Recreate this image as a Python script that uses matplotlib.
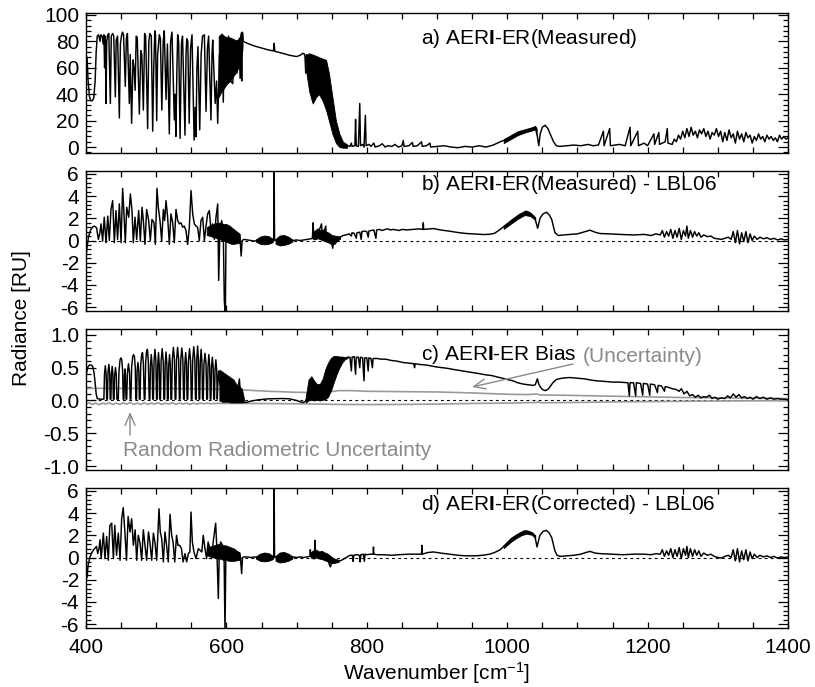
import numpy as np
import matplotlib
matplotlib.use('Agg')
import matplotlib.pyplot as plt
from matplotlib.ticker import AutoMinorLocator, FormatStrFormatter

plt.rcParams['font.family'] = ['Liberation Sans', 'DejaVu Sans']
plt.rcParams['mathtext.fontset'] = 'custom'
plt.rcParams['mathtext.rm'] = 'Liberation Sans'
plt.rcParams['mathtext.bf'] = 'Liberation Sans:bold'
plt.rcParams['mathtext.it'] = 'Liberation Sans:italic'
plt.rcParams['axes.unicode_minus'] = False

# ---------------- data (wavenumber [cm-1], radiance [RU]) ----------------
# Panel a: measured radiance
a_line = [
    (400, 52), (401.5, 68), (403, 50), (405, 38), (407, 35), (409, 35), (411, 37), (413, 50), (414.5, 72),
    (416, 84), (418, 85), (420, 80), (421, 85), (423, 84), (424.5, 78), (425.5, 85), (426.5, 60), (427.5, 84),
    (428.5, 33), (429.5, 80), (431, 85), (432.5, 86), (434.7, 33), (436, 84), (438, 86), (439.5, 84), (441.8, 38),
    (443, 81), (445, 84), (447.5, 22), (449, 78), (450.5, 84), (452, 87), (453.5, 85), (456, 46), (457.5, 82),
    (459, 86), (461.7, 33), (463, 70), (465, 18), (467, 66), (468.5, 60), (470, 43), (471.5, 84), (473, 83),
    (476, 25), (478, 73), (479.5, 70), (481.7, 28), (483.5, 86), (485, 84), (487.8, 14), (489.5, 80), (491, 86),
    (493, 84), (495, 12), (496.5, 60), (498, 88), (499, 85), (500.7, 20), (502, 70), (504.5, 85), (506, 82),
    (508, 28), (510, 80), (511.5, 88), (514, 36), (516, 78), (518.7, 10), (520.5, 80), (522.5, 87), (525.8, 20.5),
    (527, 40), (528, 8), (529.5, 60), (530.6, 85), (532, 80), (534, 6.6), (536, 78), (537.5, 84), (541, 9),
    (542.5, 70), (543.5, 82), (545, 80), (547, 18), (549, 75), (551, 85), (554, 5.3), (555.5, 30), (556.7, 7.8),
    (558, 60), (559.5, 76), (562, 13), (564, 70), (566, 84), (568.6, 85), (571, 27), (573, 75), (574.7, 84),
    (578, 20.5), (579.5, 70), (580.5, 81), (584, 33), (586, 50), (587.6, 18), (589, 45), (590, 70),
    (592, 50), (594, 80), (595.6, 34), (597, 82), (600, 55), (603, 84), (606, 50), (609, 48), (612, 80),
    (615, 56), (618, 82), (619.5, 52), (621, 86), (621.8, 50), (622.5, 87), (624, 80),
    (630, 78.5), (640, 76.5), (650, 75), (660, 73.5), (667, 72.8), (668, 78.5), (669, 72.5), (680, 71),
    (690, 69.5), (700, 68.5), (705, 69.5), (709, 71), (711, 70.5), (712, 68), (713, 56), (714, 70),
    (718, 60), (723, 34), (727, 60), (732, 50), (737, 55), (742, 40), (746, 30), (751, 20), (756, 8),
    (761, 3), (766, 1), (772, 1), (776, 0.5), (778, 3), (779, 0.5), (783, 1), (784, 21), (785, 1),
    (788, 0.5), (790, 33), (791, 1), (794, 2), (796, 0), (798, 24), (799, 1), (803, 2), (806, 0.5), (810, 3),
    (812, 0), (818, 1), (822, 2.5), (826, 0), (830, 1), (836, 0.5), (840, 2), (845, 0), (850, 1), (852, 5),
    (853, 0.5), (860, 1), (865, 3.5), (866, 0.5), (872, 1), (878, 4), (879, 0.5), (885, 1), (890, 3), (891, 0),
    (900, 0.5), (910, 1), (920, 0), (930, -0.5), (940, 0.5), (950, 0), (960, 1), (970, 0), (980, 1.5),
    (990, 4), (1000, 6), (1010, 9), (1020, 11), (1030, 12.5), (1036, 14), (1040, 15), (1043, 8), (1045, 1),
    (1047, 10), (1050, 15), (1054, 16.5), (1058, 14), (1062, 9), (1066, 4), (1070, 1), (1075, 0.5), (1085, 1),
    (1095, 1.5), (1105, 1), (1115, 2), (1122, 1), (1130, 1.5), (1137, 12), (1138, 1), (1146, 14), (1147, 1),
    (1160, 2), (1168, 1), (1175, 15), (1176, 1), (1186, 12), (1187, 1), (1195, 3), (1200, 1), (1209, 10),
    (1210, 2), (1216, 11), (1217, 2), (1225, 4), (1228, 14), (1229, 3), (1235, 2), (1238, 6), (1241, 4),
    (1244, 9), (1247, 6), (1250, 12), (1253, 7), (1256, 14), (1259, 8), (1262, 15), (1265, 9), (1268, 12),
    (1271, 7), (1274, 13), (1277, 10), (1280, 14), (1283, 8), (1286, 12), (1289, 6), (1292, 11), (1295, 9),
    (1298, 14), (1301, 8), (1304, 12), (1307, 4), (1310, 11), (1313, 5), (1316, 13), (1319, 7), (1322, 10),
    (1325, 3), (1328, 12), (1331, 6), (1334, 10), (1337, 4), (1340, 11), (1343, 7), (1346, 9), (1349, 3),
    (1352, 8), (1355, 5), (1358, 10), (1361, 6), (1364, 8), (1367, 4), (1370, 9), (1373, 6), (1376, 8),
    (1379, 5), (1382, 7), (1385, 4), (1388, 9), (1391, 6), (1394, 8), (1397, 6), (1400, 7),
]
# dense (unresolved) line bands in panel a: wavenumber, upper and lower envelopes
a_band1_wn = [589, 593, 597, 601, 605, 609, 613, 617, 620, 623]
a_band1_hi = [84, 86, 84, 83, 83, 82, 81, 81, 85, 87]
a_band1_lo = [38, 42, 45, 48, 50, 53, 56, 60, 62, 75]
a_band2_wn = [714, 718, 723, 728, 732, 737, 742, 746, 751, 756, 761, 766, 772]
a_band2_hi = [70, 71, 70, 69, 68, 67, 66, 56, 38, 20, 10, 4, 2]
a_band2_lo = [56, 42, 33, 38, 40, 35, 28, 20, 10, 3, 0, -0.5, -0.5]
a_band3_wn = [995, 1005, 1015, 1025, 1035, 1040, 1042]
a_band3_hi = [6, 9, 12, 13.5, 15, 16, 14]
a_band3_lo = [3, 6, 9, 11, 12.5, 13.5, 10]

# Panel b: measured - LBL06
b_line = [
    (400, -1.5), (401.5, -0.6), (403.8, 0.4), (407, 1.0), (410, 1.25), (412, 1.3), (415, 1.15), (417.6, 0.1),
    (419.5, 0.6), (421.4, 1.5), (423.7, -0.05), (426, 2.1), (428.5, -0.2), (431, 2.2), (433.2, 0.0), (435.6, 2.8),
    (438, 3.6), (440.4, -0.2), (442.7, 2.7), (445, 0.1), (447.5, 3.3), (449.9, -0.2), (452.2, 4.7), (454.1, 2.4),
    (456, -0.2), (458, 3.0), (460.8, 2.1), (463.2, 4.2), (465.5, 2.7), (467.4, -0.2), (469.8, 2.1), (472.2, 0.1),
    (475, 2.7), (477.4, -0.05), (479.8, 3.0), (481.7, 1.8), (484, -0.35), (486.4, 2.8), (489.3, 1.8), (491.6, 0.0),
    (494, 1.9), (496.9, 1.6), (498.8, -0.35), (501.1, 4.7), (503, 3.0), (505.4, 1.8), (507.8, -0.05), (510.2, 2.8),
    (512, 1.8), (514, 3.6), (516.3, 2.1), (518.7, -0.35), (521, 2.4), (523.5, 1.6), (525.8, -0.2), (528.2, 2.8),
    (530.6, 1.8), (533, 1.5), (535.3, 1.6), (537.7, 1.2), (540, 1.3), (542.4, 0.9), (544.8, -0.35), (547.2, 1.2),
    (549.6, 4.5), (552, 2.4), (554.3, 1.5), (556.7, 1.3), (559, 1.2), (561.4, 0.0), (563.8, 1.8), (566.2, 2.1),
    (568.6, 0.0), (571, 1.3), (573.3, 2.4), (575.7, 2.7), (578, 0.9), (580.4, 1.5), (582.8, 0.1), (585.2, 2.1),
    (587.6, 3.3), (589, -3.6), (590.9, 1.2), (593.3, 1.8), (595.6, 0.6), (597, -5.4), (598.5, -6.8), (599.5, 0.9),
    (602, 1.2), (606, 0.8), (610, 0.9), (614, 0.5), (618, 0.6), (619.5, 0.1), (621, -1.4), (622.5, 0.0),
    (625, 0.1), (630, 0.05), (635, 0.0), (640, -0.05), (645, 0.0), (655, 0.1), (665, 0.0), (667.6, 0.0),
    (668, 7.0), (668.6, 0.0), (672, 0.05), (680, 0.1), (690, 0.0), (695, 0.0), (700, 0.05), (705, 0.0),
    (710, 0.05), (715, 0.1), (720, 0.15), (722.5, 0.2), (723.5, 1.6), (724.5, 0.4), (730, 0.5), (735.5, 1.5),
    (736.5, 0.3), (741.5, 1.3), (742.5, 0.2), (750, -0.2), (751.5, -0.7), (753, 0.0), (758, 0.2), (762, 0.3),
    (766, 0.45), (770, 0.5), (775, 0.6), (778, 0.4), (779, 0.7), (782, 0.65), (785, 0.2), (786, 0.7), (790, 0.75),
    (792, 0.1), (793, 0.8), (797, 0.85), (800, 0.8), (802, 0.3), (803, 0.85), (806, 0.9), (810, 0.95), (813, 0.2),
    (814, 0.95), (818, 1.0), (822, 0.9), (826, 1.0), (830, 1.05), (834, 0.95), (838, 1.0), (842, 0.95), (846, 0.9),
    (850, 1.0), (857, 0.95), (865, 1.0), (875, 1.05), (880, 1.0), (880.5, 1.6), (881, 1.0), (890, 1.05),
    (895, 1.08), (905, 0.95), (918, 0.84), (930, 0.72), (942, 0.63), (955, 0.58), (966, 0.54), (975, 0.56),
    (982, 0.65), (990, 1.0), (999, 1.45), (1008, 1.9), (1018, 2.35), (1027, 2.64), (1031, 2.55), (1035, 2.35),
    (1039.5, 2.0), (1043.4, 1.1), (1046.7, 2.0), (1051, 2.4), (1056, 2.55), (1060, 2.3), (1063.4, 1.9),
    (1068, 0.7), (1073, 0.45), (1080, 0.5), (1090, 0.55), (1100, 0.6), (1108, 0.75), (1118, 0.93), (1125, 0.75),
    (1132, 0.63), (1145, 0.6), (1160, 0.55), (1180, 0.5), (1195, 0.55), (1205, 0.45), (1212, 0.6), (1218, 0.5),
    (1221, 0.9), (1224, 0.3), (1227, 0.8), (1230, 0.4), (1233, 1.0), (1236, 0.2), (1239, 0.9), (1242, 0.3),
    (1245, 1.1), (1248, 0.1), (1251, 0.9), (1254, 0.4), (1256, 1.3), (1258, 0.2), (1261, 0.9), (1264, 0.3),
    (1267, 0.8), (1270, 0.4), (1273, 0.7), (1276, 0.3), (1280, 0.5), (1285, 0.35), (1290, 0.4), (1295, 0.2),
    (1300, 0.15), (1305, 0.1), (1310, 0.2), (1315, 0.3), (1319, 0.1), (1322, 0.8), (1325, -0.2), (1328, 0.9),
    (1331, -0.3), (1334, 0.7), (1337, -0.1), (1340, 0.8), (1343, -0.2), (1346, 0.6), (1349, 0.0), (1352, 0.4),
    (1356, 0.1), (1360, 0.3), (1365, 0.15), (1370, 0.25), (1375, 0.1), (1380, 0.2), (1385, 0.05), (1390, 0.15),
    (1395, 0.05), (1400, 0.1),
]
b_band1_wn = [572, 577, 582, 587, 591, 595, 599, 603, 607, 611, 615, 619]
b_band1_hi = [1.2, 1.4, 1.5, 1.6, 1.6, 1.5, 1.5, 1.4, 1.2, 1.0, 0.8, 0.6]
b_band1_lo = [0.5, 0.4, 0.3, 0.2, 0.1, 0.0, -0.1, -0.2, -0.3, -0.3, -0.25, -0.2]
blob1_wn = [642, 648, 654, 660, 666]
blob1_hi = [0.1, 0.35, 0.45, 0.4, 0.15]
blob1_lo = [-0.1, -0.3, -0.35, -0.3, -0.15]
blob2_wn = [670, 676, 682, 688, 694]
blob2_hi = [0.15, 0.45, 0.5, 0.35, 0.1]
blob2_lo = [-0.3, -0.45, -0.4, -0.3, -0.1]
b_band2_wn = [722, 726, 730, 734, 738, 742, 746, 750, 754, 758, 762]
b_band2_hi = [0.7, 0.9, 1.1, 0.9, 1.0, 0.8, 0.7, 0.5, 0.45, 0.4, 0.35]
b_band2_lo = [0.2, 0.1, 0.2, 0.1, 0.0, -0.1, -0.2, -0.35, -0.3, 0.0, 0.15]
b_band3_wn = [995, 1005, 1015, 1025, 1033, 1040]
b_band3_hi = [1.35, 1.8, 2.3, 2.65, 2.5, 2.1]
b_band3_lo = [1.05, 1.5, 1.95, 2.3, 2.2, 1.85]

# Panel c: AERI-ER bias
c_line = [
    (400, 0.37), (401.5, 0.46), (403, 0.52), (405, 0.54), (407.5, 0.54), (409.5, 0.52), (411.5, 0.42), (413, 0.27),
    (414.5, 0.10), (416, 0.03), (420, 0.02), (425, 0.02),
    (425.5, 0.02), (426.3, 0.40), (427.5, 0.53), (428.7, 0.40), (429.5, 0.02),
    (430.5, 0.02), (431.3, 0.42), (432.5, 0.55), (433.7, 0.42), (434.5, 0.02),
    (435.5, 0.02), (436.2, 0.40), (437.3, 0.52), (438.3, 0.40), (439, 0.02),
    (440, 0.02), (440.8, 0.38), (442, 0.50), (443.2, 0.38), (444, 0.02), (445, 0.02),
    (446, 0.02), (447, 0.45), (448.5, 0.62), (449.7, 0.65), (451, 0.62), (452.2, 0.45), (453, 0.02),
    (454, 0.02), (454.8, 0.38), (455.5, 0.48), (456.2, 0.38), (457, 0.02),
    (458, 0.02), (459, 0.42), (460.5, 0.56), (462, 0.42), (463, 0.02),
    (464, 0.02), (465, 0.50), (466.5, 0.67), (467.7, 0.70), (469, 0.67), (470.2, 0.50), (471, 0.02),
    (472, 0.02), (472.8, 0.45), (474, 0.58), (475.2, 0.45), (476, 0.02),
    (477, 0.02), (478, 0.55), (479.3, 0.70), (480.5, 0.73), (481.8, 0.55), (483, 0.02),
    (484, 0.02), (485, 0.58), (486.3, 0.75), (487.5, 0.78), (488.8, 0.60), (490, 0.02),
    (491, 0.02), (491.8, 0.52), (493, 0.70), (494.2, 0.52), (495, 0.02),
    (496, 0.02), (496.9, 0.60), (498.2, 0.78), (499.5, 0.62), (500.5, 0.02),
    (501.5, 0.02), (502.2, 0.55), (503.3, 0.73), (504.3, 0.55), (505, 0.02),
    (506, 0.02), (507, 0.60), (508.5, 0.79), (510, 0.60), (511, 0.02),
    (512, 0.02), (512.8, 0.55), (514, 0.74), (515.2, 0.55), (516, 0.02),
    (517, 0.02), (517.8, 0.52), (519, 0.70), (520.2, 0.52), (521, 0.02),
    (522, 0.02), (523, 0.62), (524.5, 0.81), (526, 0.62), (527, 0.02),
    (528, 0.02), (529, 0.62), (530.5, 0.81), (532, 0.62), (533, 0.02),
    (534, 0.02), (535, 0.62), (536.5, 0.80), (538, 0.62), (539, 0.02),
    (540, 0.02), (540.8, 0.55), (542, 0.73), (543.2, 0.55), (544, 0.02),
    (545, 0.02), (546, 0.60), (547.5, 0.79), (549, 0.60), (550, 0.02),
    (551, 0.02), (552, 0.62), (553.5, 0.82), (555, 0.62), (556, 0.02),
    (557, 0.02), (557.8, 0.62), (559, 0.83), (560.2, 0.62), (561, 0.02),
    (562, 0.02), (562.8, 0.58), (564, 0.78), (565.2, 0.58), (566, 0.02),
    (567, 0.02), (568, 0.55), (569.5, 0.72), (571, 0.55), (572, 0.02),
    (573, 0.02), (573.8, 0.52), (575, 0.70), (576.2, 0.52), (577, 0.02),
    (578, 0.02), (578.8, 0.50), (580, 0.66), (581.2, 0.50), (582, 0.02),
    (583, 0.02), (583.8, 0.46), (585, 0.62), (586.2, 0.46), (587, 0.02),
    (588, 0.30), (589, 0.45), (590, 0.30), (592, 0.20), (596, 0.10), (600, 0.20), (604, 0.05), (608, 0.20),
    (612, 0.10), (616, 0.15), (618.5, 0.33), (620, 0.10), (623, 0.0), (624, -0.02), (628, -0.03), (635, -0.01),
    (645, 0.01), (660, 0.025), (680, 0.03), (690, 0.025), (700, 0.0), (705, -0.02), (709, -0.03), (712, -0.02),
    (718, 0.1), (723, 0.2), (728, 0.1), (733, 0.15), (738, 0.2), (742, 0.3), (746, 0.4), (750, 0.5),
    (755, 0.55), (760, 0.6), (765, 0.63), (770, 0.65),
    (773, 0.66), (776, 0.66), (778, 0.45), (779, 0.66), (782, 0.67), (784, 0.40), (785, 0.66), (788, 0.66),
    (790, 0.50), (791, 0.66), (794, 0.65), (796, 0.30), (797, 0.65), (800, 0.65), (802, 0.45), (803, 0.65),
    (806, 0.64), (808, 0.50), (809, 0.64), (815, 0.64), (820, 0.63), (827, 0.63), (835, 0.61), (843, 0.60),
    (851, 0.58), (860, 0.57), (867, 0.56), (868, 0.50), (869, 0.56), (875, 0.55), (885, 0.54), (890, 0.53),
    (900, 0.51), (915, 0.49), (925, 0.47), (937, 0.45), (950, 0.43), (960, 0.41), (970, 0.39), (978, 0.38),
    (985, 0.36), (993, 0.34), (1000, 0.32), (1008, 0.30), (1015, 0.27), (1023, 0.25), (1030, 0.24), (1037, 0.23),
    (1040, 0.24), (1043, 0.33), (1045, 0.25), (1047, 0.21), (1050, 0.17), (1054, 0.15), (1058, 0.17), (1061, 0.21),
    (1065, 0.27), (1070, 0.32), (1078, 0.34), (1089, 0.35), (1100, 0.34), (1110, 0.33), (1120, 0.31), (1127, 0.30),
    (1140, 0.29), (1150, 0.28), (1160, 0.28), (1172, 0.27), (1174, 0.07), (1175, 0.27), (1180, 0.27), (1183, 0.07),
    (1184, 0.27), (1190, 0.26), (1193, 0.08), (1194, 0.26), (1200, 0.25), (1203, 0.08), (1204, 0.25), (1210, 0.24),
    (1214, 0.12), (1215, 0.23), (1220, 0.22), (1224, 0.14), (1225, 0.21), (1230, 0.20), (1235, 0.18), (1240, 0.17),
    (1245, 0.14), (1248, 0.18), (1252, 0.10), (1256, 0.14), (1260, 0.07), (1264, 0.09), (1268, 0.05), (1272, 0.08),
    (1276, 0.04), (1280, 0.06), (1284, 0.05), (1288, 0.08), (1292, 0.03), (1296, 0.05), (1300, 0.02), (1305, 0.04),
    (1310, 0.03), (1314, 0.07), (1318, 0.04), (1322, 0.10), (1326, 0.05), (1330, 0.09), (1334, 0.04), (1338, 0.06),
    (1342, 0.03), (1346, 0.05), (1350, 0.02), (1355, 0.06), (1360, 0.03), (1365, 0.05), (1370, 0.02), (1375, 0.04),
    (1380, 0.02), (1385, 0.03), (1390, 0.02), (1395, 0.02), (1400, 0.01),
]
c_band1_wn = [590, 594, 598, 602, 606, 610, 614, 618, 622, 625]
c_band1_hi = [0.47, 0.44, 0.41, 0.38, 0.35, 0.32, 0.25, 0.22, 0.18, 0.03]
c_band1_lo = [0.0, -0.02, -0.02, -0.02, -0.03, -0.03, -0.03, -0.03, -0.03, -0.03]
c_band2_wn = [713, 717, 721, 725, 729, 733, 737, 741, 745, 749, 753, 757, 761, 765, 769, 773]
c_band2_hi = [0.05, 0.32, 0.37, 0.30, 0.25, 0.25, 0.33, 0.48, 0.58, 0.65, 0.68, 0.68, 0.67, 0.67, 0.66, 0.66]
c_band2_lo = [-0.03, 0.0, 0.01, 0.0, 0.01, 0.0, 0.01, 0.02, 0.06, 0.15, 0.28, 0.40, 0.50, 0.58, 0.63, 0.65]
# uncertainty envelopes (grey)
unc_upper = [
    (400, 0.185), (450, 0.185), (500, 0.183), (550, 0.18), (600, 0.17), (625, 0.16), (660, 0.14), (700, 0.125),
    (730, 0.12), (745, 0.13), (760, 0.15), (780, 0.15), (800, 0.14), (850, 0.135), (900, 0.13), (950, 0.115),
    (1000, 0.095), (1030, 0.09), (1042, 0.10), (1046, 0.085), (1080, 0.08), (1150, 0.065), (1200, 0.055),
    (1250, 0.045), (1300, 0.04), (1350, 0.035), (1400, 0.03),
]
unc_lower = [
    (400, -0.05), (404, -0.035), (409, -0.06), (414, -0.04), (419, -0.065), (424, -0.04), (428, -0.055),
    (433, -0.035), (438, -0.06), (443, -0.04), (448, -0.06), (453, -0.035), (458, -0.055), (463, -0.03),
    (468, -0.06), (473, -0.04), (478, -0.06), (483, -0.035), (488, -0.06), (493, -0.04), (498, -0.055),
    (503, -0.035), (508, -0.06), (513, -0.04), (518, -0.055), (523, -0.035), (528, -0.06), (533, -0.04),
    (538, -0.055), (543, -0.04), (548, -0.06), (553, -0.04), (558, -0.055), (563, -0.04), (568, -0.05),
    (573, -0.04), (578, -0.05), (585, -0.045), (595, -0.045), (620, -0.045), (660, -0.047), (700, -0.05),
    (730, -0.055), (760, -0.06), (800, -0.062), (850, -0.06), (900, -0.055), (950, -0.045), (1000, -0.04),
    (1042, -0.03), (1044, -0.02), (1048, -0.035), (1100, -0.03), (1150, -0.022), (1200, -0.017),
    (1250, -0.012), (1300, -0.008), (1350, -0.005), (1400, -0.003),
]

# Panel d: corrected - LBL06
d_line = [
    (400, -1.9), (401.5, -1.8), (403, -0.7), (405.7, 0.05), (408, 0.4), (410.4, 0.66), (413, 0.85), (415, 1.0),
    (416.7, 0.35), (418.5, 0.8), (420, 1.6), (421.6, -0.1), (424.7, 2.2), (427, -0.1), (429.4, 1.9), (431.8, -0.25),
    (434, 2.9), (436.6, 3.1), (439, -0.1), (441, 2.9), (443.5, 0.2), (446, 2.2), (448.5, -0.25), (450.8, 3.5),
    (453, 4.5), (455.4, 2.3), (457.7, -0.25), (460, 3.7), (462.7, 2.3), (465, 3.5), (467.5, 1.1), (470, 2.5),
    (472.2, -0.25), (474.5, 2.0), (477, 1.3), (479.3, -0.25), (481.7, 2.5), (484, 1.1), (486.4, -0.25), (489, 2.3),
    (491.2, 1.3), (493.6, -0.25), (496, 2.2), (498.3, 1.3), (500.7, -0.25), (504, 4.4), (505.8, 2.3), (507.8, 1.7),
    (510.2, -0.4), (512.5, 2.3), (514.8, 1.1), (517.2, -0.4), (519.7, 3.9), (522, 2.0), (524, 1.4), (526.4, -0.4),
    (529, 2.0), (531, 1.1), (533.4, 1.1), (536, 0.8), (538.3, -0.4), (541, 0.35), (543.4, -0.4), (545.8, 0.35),
    (548, 0.5), (549.6, 4.1), (551.5, 1.4), (553.8, 0.5), (556.7, -0.1), (560, 0.8), (562.4, 0.65), (565, 0.5),
    (567, 2.0), (569.5, 0.8), (571.8, -0.1), (574, 1.4), (576.5, 0.8), (578.8, -0.1), (581, 1.3), (584.7, 3.1),
    (586.2, 1.1), (588.5, -3.7), (590, 0.8), (591.8, 1.4), (594.7, 1.1), (596.6, 0.65), (598, -6.8), (599.3, 0.5),
    (602, 0.8), (606, 0.5), (610, 0.6), (614, 0.3), (618, 0.4), (620, 0.0), (621.7, -1.45), (623, 0.0),
    (625, 0.05), (630, 0.05), (635, 0.0), (640, 0.05), (645, 0.0), (655, 0.05), (665, 0.0), (667.6, 0.0),
    (668, 7.0), (668.6, 0.0), (672, 0.05), (680, 0.05), (690, 0.0), (695, 0.05), (700, 0.0), (705, 0.05),
    (710, 0.0), (715, 0.05), (719, 0.1), (719.5, 0.7), (720.5, 0.1), (725.5, 0.3), (726.3, 1.55), (727, 0.2),
    (735, 0.3), (740, 0.0), (745, -0.3), (746.5, -0.6), (748, -0.85), (750, -0.5), (752, -0.4), (756, -0.4),
    (760, -0.35), (764, -0.25), (768, -0.1), (772, 0.05), (776, 0.2), (779.5, 0.2), (780.5, -0.35), (781.5, 0.2),
    (785, 0.25), (789.5, 0.2), (790.5, -0.4), (791.5, 0.25), (795, 0.3), (796.5, -0.35), (797.5, 0.3), (800, 0.25),
    (805, 0.3), (809, 0.3), (809.5, 0.95), (810, 0.3), (815, 0.25), (825, 0.25), (835, 0.2), (845, 0.25),
    (860, 0.3), (870, 0.3), (878, 0.3), (878.5, 1.1), (879, 0.3), (887, 0.45), (895, 0.5), (905, 0.4), (918, 0.3),
    (930, 0.2), (942, 0.15), (955, 0.15), (965, 0.2), (975, 0.3), (982, 0.45), (990, 0.7), (999, 1.25),
    (1006, 1.7), (1013, 2.0), (1020, 2.25), (1025, 2.4), (1030, 2.35), (1035, 2.2), (1039.5, 1.9), (1042.5, 0.95),
    (1046.5, 2.0), (1051, 2.35), (1056, 2.45), (1060, 2.2), (1063.4, 1.8), (1068, 0.6), (1071, 0.2), (1075, 0.1),
    (1085, 0.15), (1095, 0.2), (1105, 0.3), (1112, 0.45), (1118, 0.55), (1125, 0.4), (1132, 0.35), (1150, 0.3),
    (1165, 0.25), (1180, 0.3), (1195, 0.3), (1205, 0.25), (1212, 0.35), (1218, 0.3), (1221, 0.7), (1224, 0.1),
    (1227, 0.6), (1230, 0.2), (1233, 0.8), (1236, 0.0), (1239, 0.7), (1242, 0.1), (1245, 0.9), (1248, -0.1),
    (1251, 0.8), (1254, 0.2), (1256, 1.0), (1258, 0.0), (1261, 0.8), (1264, 0.1), (1267, 0.7), (1270, 0.2),
    (1273, 0.6), (1276, 0.1), (1280, 0.4), (1285, 0.2), (1290, 0.3), (1295, 0.1), (1300, 0.0), (1305, -0.05),
    (1310, 0.1), (1315, 0.2), (1319, 0.0), (1322, 0.7), (1325, -0.3), (1328, 0.8), (1331, -0.4), (1334, 0.6),
    (1337, -0.2), (1340, 0.7), (1343, -0.3), (1346, 0.5), (1349, -0.1), (1352, 0.3), (1356, 0.0), (1360, 0.2),
    (1365, 0.05), (1370, 0.15), (1375, 0.0), (1380, 0.1), (1385, -0.05), (1390, 0.05), (1395, 0.0), (1400, 0.05),
]
d_band1_wn = [572, 577, 582, 587, 591, 595, 599, 603, 607, 611, 615, 619]
d_band1_hi = [0.9, 1.0, 1.1, 1.2, 1.2, 1.1, 1.1, 1.0, 0.9, 0.8, 0.6, 0.45]
d_band1_lo = [0.2, 0.1, 0.0, -0.1, -0.1, -0.2, -0.2, -0.3, -0.3, -0.3, -0.25, -0.2]
d_band2_wn = [720, 724, 728, 732, 736, 740, 744, 748, 752, 756, 760]
d_band2_hi = [0.5, 0.65, 0.7, 0.55, 0.6, 0.45, 0.35, 0.15, -0.05, -0.15, -0.2]
d_band2_lo = [0.0, -0.1, 0.0, -0.1, -0.15, -0.25, -0.35, -0.5, -0.5, -0.45, -0.4]
d_band3_wn = [995, 1005, 1013, 1020, 1027, 1035, 1040]
d_band3_hi = [1.1, 1.7, 2.05, 2.3, 2.45, 2.3, 2.0]
d_band3_lo = [0.85, 1.4, 1.75, 2.0, 2.15, 2.05, 1.75]

x_ticks = list(range(400, 1401, 50))

# ---------------- figure ----------------
GRAY = '#9a9a9a'
TGRAY = '#8a8a8a'
FS = 15
fig = plt.figure(figsize=(8.15, 6.87), dpi=100)
L, W = 86 / 815, 702 / 815
ax_a = fig.add_axes([L, 1 - 153 / 687, W, 140 / 687])
ax_b = fig.add_axes([L, 1 - 311 / 687, W, 140 / 687])
ax_c = fig.add_axes([L, 1 - 470 / 687, W, 141 / 687])
ax_d = fig.add_axes([L, 1 - 628 / 687, W, 140 / 687])


def xy(pairs):
    arr = np.array(pairs, dtype=float)
    return arr[:, 0], arr[:, 1]


def band(ax, wn, hi, lo):
    ax.fill_between(wn, lo, hi, color='black', lw=0.6, zorder=2)


LW = 1.05
# a
x, y = xy(a_line)
ax_a.plot(x, y, color='black', lw=LW, zorder=3)
for wn, hi, lo in [(a_band1_wn, a_band1_hi, a_band1_lo), (a_band2_wn, a_band2_hi, a_band2_lo),
                   (a_band3_wn, a_band3_hi, a_band3_lo)]:
    band(ax_a, wn, hi, lo)
# b
x, y = xy(b_line)
ax_b.plot(x, y, color='black', lw=LW, zorder=3)
for wn, hi, lo in [(b_band1_wn, b_band1_hi, b_band1_lo), (blob1_wn, blob1_hi, blob1_lo),
                   (blob2_wn, blob2_hi, blob2_lo), (b_band2_wn, b_band2_hi, b_band2_lo),
                   (b_band3_wn, b_band3_hi, b_band3_lo)]:
    band(ax_b, wn, hi, lo)
# c
x, y = xy(unc_upper)
ax_c.plot(x, y, color=GRAY, lw=1.2, zorder=2)
x, y = xy(unc_lower)
ax_c.plot(x, y, color=GRAY, lw=1.2, zorder=2)
x, y = xy(c_line)
ax_c.plot(x, y, color='black', lw=LW, zorder=3)
band(ax_c, c_band1_wn, c_band1_hi, c_band1_lo)
band(ax_c, c_band2_wn, c_band2_hi, c_band2_lo)
# d
x, y = xy(d_line)
ax_d.plot(x, y, color='black', lw=LW, zorder=3)
for wn, hi, lo in [(d_band1_wn, d_band1_hi, d_band1_lo), (blob1_wn, blob1_hi, blob1_lo),
                   (blob2_wn, blob2_hi, blob2_lo), (d_band2_wn, d_band2_hi, d_band2_lo),
                   (d_band3_wn, d_band3_hi, d_band3_lo)]:
    band(ax_d, wn, hi, lo)

for ax in (ax_b, ax_c, ax_d):
    ax.axhline(0, color='black', lw=0.8, ls=(0, (2.5, 3)), zorder=1)

# limits & ticks
ax_a.set_ylim(-4.5, 101.5)
ax_a.set_yticks([0, 20, 40, 60, 80, 100])
for ax in (ax_b, ax_d):
    ax.set_ylim(-6.36, 6.27)
    ax.set_yticks([-6, -4, -2, 0, 2, 4, 6])
ax_c.set_ylim(-1.06, 1.09)
ax_c.set_yticks([-1.0, -0.5, 0.0, 0.5, 1.0])
ax_c.yaxis.set_major_formatter(FormatStrFormatter('%.1f'))

for ax in (ax_a, ax_b, ax_c, ax_d):
    ax.set_xlim(400, 1400)
    ax.set_xticks(x_ticks)
    if ax is ax_d:
        ax.set_xticklabels([str(t) if t % 200 == 0 else '' for t in x_ticks])
    else:
        ax.set_xticklabels([])
    ax.yaxis.set_minor_locator(AutoMinorLocator(5))
    ax.tick_params(axis='x', which='major', direction='in', top=True, bottom=True,
                   length=4.5, width=0.9, labelsize=FS, pad=7)
    ax.tick_params(axis='y', which='major', direction='in', left=True, right=True,
                   length=7, width=0.9, labelsize=FS, pad=5)
    ax.tick_params(axis='y', which='minor', direction='in', left=True, right=True,
                   length=3.5, width=0.9)
    for s in ax.spines.values():
        s.set_linewidth(1.0)

# panel labels
ax_a.text(877, 78.4, r'a) AER$\mathbf{I}$-ER(Measured)', fontsize=FS, ha='left', va='baseline')
ax_b.text(877, 4.6, r'b) AER$\mathbf{I}$-ER(Measured) - LBL06', fontsize=FS, ha='left', va='baseline')
t1 = ax_c.text(877, 0.62, r'c) AER$\mathbf{I}$-ER Bias', fontsize=FS, ha='left', va='baseline')
ax_c.annotate('(Uncertainty)', xy=(1, 0), xycoords=t1, xytext=(4.5, 0), textcoords='offset points',
              ha='left', va='bottom', fontsize=FS, color=TGRAY)
ax_d.text(877, 4.29, r'd) AER$\mathbf{I}$-ER(Corrected) - LBL06', fontsize=FS, ha='left', va='baseline')

arrow = dict(arrowstyle='->,head_length=0.7,head_width=0.3', color=TGRAY, lw=1.0,
             mutation_scale=12, shrinkA=0, shrinkB=0)
ax_c.annotate('', xy=(950, 0.206), xytext=(1094, 0.557), arrowprops=arrow)
ax_c.annotate('', xy=(462.7, -0.176), xytext=(462.7, -0.527), arrowprops=arrow)
ax_c.text(452.7, -0.843, 'Random Radiometric Uncertainty', fontsize=FS, color=TGRAY,
          ha='left', va='baseline')

fig.text(22 / 815, 1 - 318 / 687, 'Radiance [RU]', rotation=90, fontsize=FS, ha='center', va='center')
fig.text(437 / 815, 1 - 680 / 687, r'Wavenumber [cm$^{-1}$]', fontsize=FS, ha='center', va='baseline')

fig.savefig('out.png', dpi=100)
